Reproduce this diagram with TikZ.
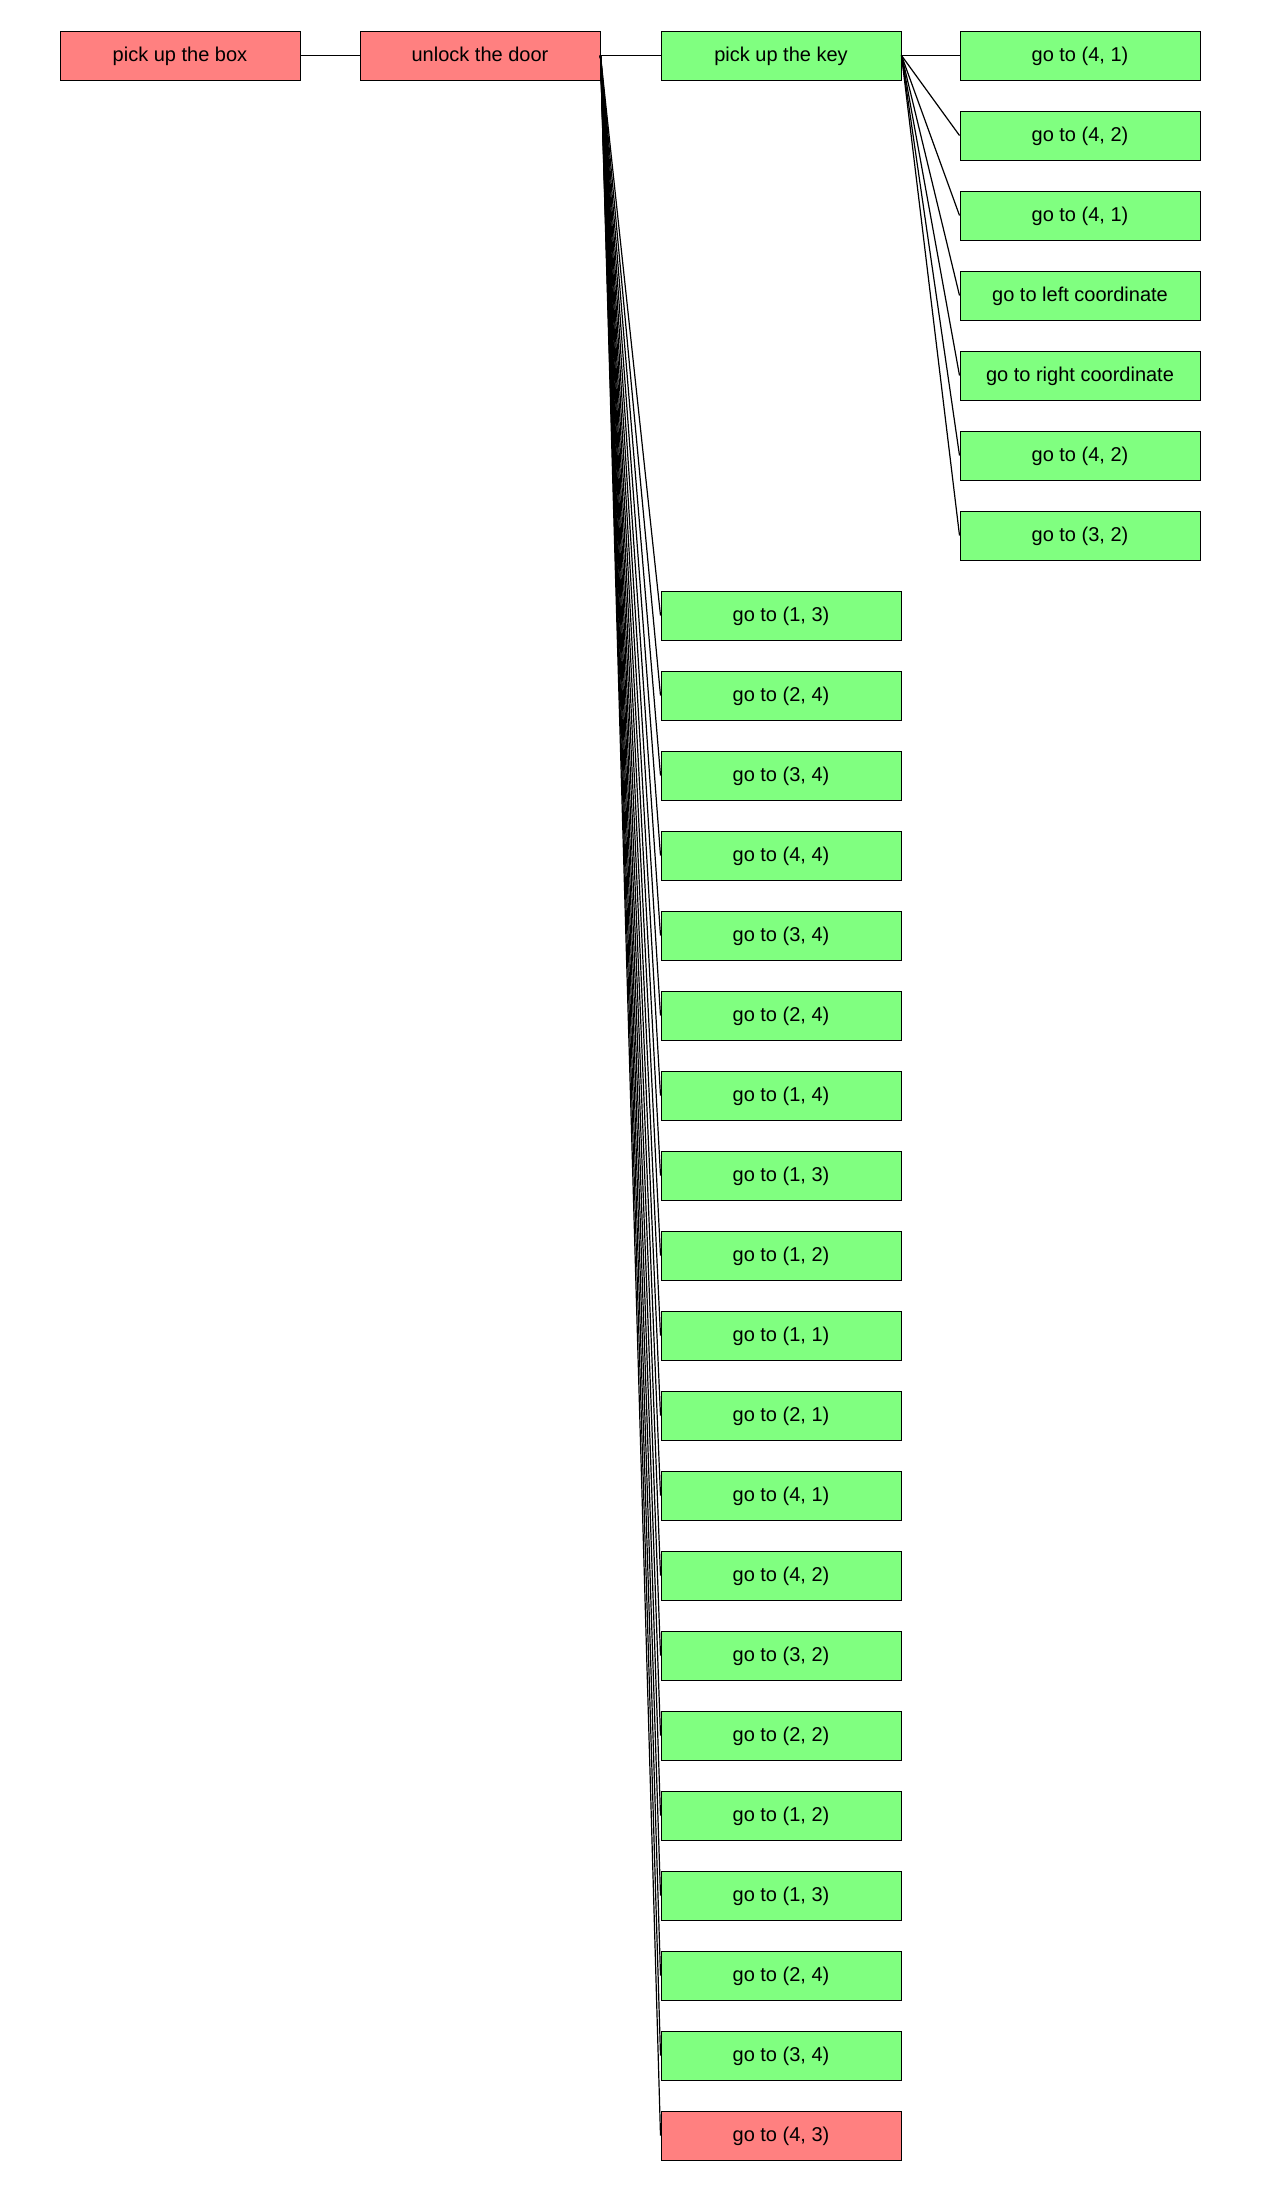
\documentclass[tikz,border=0pt]{standalone}
\usepackage{fontspec}
\setmainfont{Liberation Sans}
\definecolor{taskred}{RGB}{255,128,128}
\definecolor{movegreen}{RGB}{128,255,128}

\begin{document}
\begin{tikzpicture}[
  x=0.5pt, y=0.5pt,
  every node/.style={rectangle, draw=black, line width=0.5pt, minimum width=120pt, minimum height=24.5pt, font=\fontsize{10}{12}\selectfont, text height=1.6ex, text depth=0.45ex, inner sep=1pt},
  task/.style={fill=taskred},
  move/.style={fill=movegreen},
  link/.style={black, line width=0.6pt}
]
  \useasboundingbox (0,0) rectangle (1260,-2190);

  % Top row
  \node[task] (box) at (180, -55.5) {pick up the box};
  \node[task] (door) at (480, -55.5) {unlock the door};
  \node[move] (key) at (781, -55.5) {pick up the key};

  % Steps of picking up the key
  \foreach \lbl [count=\i] in {{go to (4, 1)}, {go to (4, 2)}, {go to (4, 1)}, {go to left coordinate}, {go to right coordinate}, {go to (4, 2)}, {go to (3, 2)}}
    \node[move] (k\i) at (1080, {-55.5-80*(\i-1)}) {\lbl};

  % Steps of unlocking the door
  \foreach \lbl [count=\i] in {{go to (1, 3)}, {go to (2, 4)}, {go to (3, 4)}, {go to (4, 4)}, {go to (3, 4)}, {go to (2, 4)}, {go to (1, 4)}, {go to (1, 3)}, {go to (1, 2)}, {go to (1, 1)}, {go to (2, 1)}, {go to (4, 1)}, {go to (4, 2)}, {go to (3, 2)}, {go to (2, 2)}, {go to (1, 2)}, {go to (1, 3)}, {go to (2, 4)}, {go to (3, 4)}}
    \node[move] (d\i) at (781, {-55.5-80*(\i+6)}) {\lbl};
  \node[task] (d20) at (781, {-55.5-80*26}) {go to (4, 3)};

  % Connections
  \draw[link] (box.east) -- (door.west);
  \draw[link] (door.east) -- (key.west);
  \foreach \i in {1,...,7}
    \draw[link] (key.east) -- (k\i.west);
  \foreach \i in {1,...,20}
    \draw[link] (door.east) -- (d\i.west);
\end{tikzpicture}
\end{document}
